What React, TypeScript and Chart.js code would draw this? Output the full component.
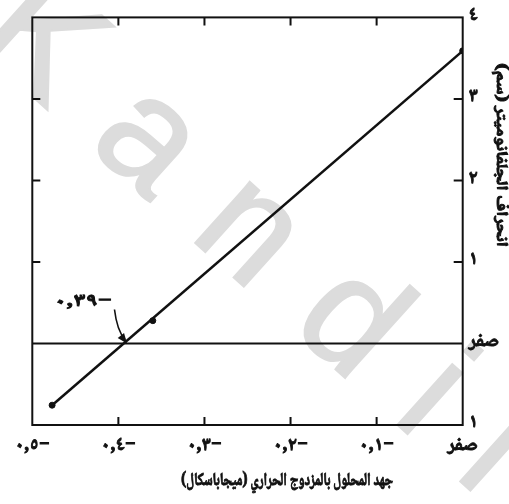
import React, { useEffect, useRef } from "react";
import { Chart, registerables } from "chart.js";

Chart.register(...registerables);

// ---- data ----
const xTickValues = [-0.5, -0.4, -0.3, -0.2, -0.1, 0];
const xTickLabels = ["٠,٥−", "٠,٤−", "٠,٣−", "٠,٢−", "٠,١−", "صفر"];
const yTickValues = [-1, 0, 1, 2, 3, 4];
const yTickLabels = ["١", "صفر", "١", "٢", "٣", "٤"];
const fitX = [-0.477, 0];
const fitY = [-0.757, 3.59];
const pointX = [-0.477, -0.36, 0];
const pointY = [-0.757, 0.28, 3.59];
const zeroX = [-0.5, 0];
const zeroY = [0, 0];
const interceptX = -0.39;
const interceptY = 0;
const interceptLabel = "٠,٣٩−";
const xTitle = "جهد المحلول بالمزدوج الحراري (ميجاباسكال)";
const yTitle = "انحراف الجلفانوميتر (سم)";
const watermark = "Kandil";

const ARABIC_FONT = '"Noto Naskh Arabic", "DejaVu Sans", sans-serif';

function fitText(ctx: CanvasRenderingContext2D, text: string, x: number, y: number, w: number, rot = 0) {
  const m = ctx.measureText(text).width;
  ctx.save();
  ctx.translate(x, y);
  if (rot) ctx.rotate(rot);
  ctx.scale(w / m, 1);
  ctx.lineWidth = 0.9;
  ctx.strokeStyle = "#111";
  ctx.fillText(text, 0, 0);
  ctx.strokeText(text, 0, 0);
  ctx.restore();
}

const decorPlugin = {
  id: "decor",
  beforeDraw(chart: any) {
    const ctx = chart.ctx;
    ctx.save();
    ctx.fillStyle = "#dcdcdc";
    ctx.strokeStyle = "#dcdcdc";
    ctx.lineWidth = 2;
    ctx.font = '155px "Liberation Sans", Arial, sans-serif';
    ctx.textAlign = "left";
    ctx.textBaseline = "alphabetic";
    (ctx as any).letterSpacing = "50px";
    ctx.translate(-28, 42);
    ctx.rotate((42 * Math.PI) / 180);
    ctx.fillText(watermark, 0, 0);
    ctx.strokeText(watermark, 0, 0);
    ctx.restore();
  },
  afterDatasetsDraw(chart: any) {
    const ctx = chart.ctx;
    const ca = chart.chartArea;
    const xs = chart.scales.x;
    const ys = chart.scales.y;
    ctx.save();
    // frame
    ctx.strokeStyle = "#111";
    ctx.lineWidth = 2;
    ctx.strokeRect(ca.left, ca.top, ca.right - ca.left, ca.bottom - ca.top);
    // inward ticks
    ctx.beginPath();
    xTickValues.slice(1, -1).forEach((v) => {
      const px = xs.getPixelForValue(v);
      ctx.moveTo(px, ca.bottom);
      ctx.lineTo(px, ca.bottom - 8);
      ctx.moveTo(px, ca.top);
      ctx.lineTo(px, ca.top + 8);
    });
    [1, 2, 3].forEach((v) => {
      const py = ys.getPixelForValue(v);
      ctx.moveTo(ca.left, py);
      ctx.lineTo(ca.left + 8, py);
      ctx.moveTo(ca.right, py);
      ctx.lineTo(ca.right - 9, py);
    });
    ctx.stroke();

    // annotation arrow
    const tx = xs.getPixelForValue(interceptX);
    const ty = ys.getPixelForValue(interceptY);
    const sx = tx - 12.5, sy = ty - 34;
    const cx = tx - 10, cy = ty - 13;
    ctx.lineWidth = 1.6;
    ctx.beginPath();
    ctx.moveTo(sx, sy);
    ctx.quadraticCurveTo(cx, cy, tx - 2, ty - 4);
    ctx.stroke();
    const dx = tx - cx, dy = ty - cy;
    const len = Math.hypot(dx, dy);
    const ux = dx / len, uy = dy / len;
    ctx.fillStyle = "#111";
    ctx.beginPath();
    ctx.moveTo(tx, ty);
    ctx.lineTo(tx - ux * 10 - uy * 4, ty - uy * 10 + ux * 4);
    ctx.lineTo(tx - ux * 10 + uy * 4, ty - uy * 10 - ux * 4);
    ctx.closePath();
    ctx.fill();
    ctx.textAlign = "center";
    ctx.textBaseline = "middle";
    ctx.font = "bold 18px " + ARABIC_FONT;
    fitText(ctx, interceptLabel, tx - 44, ty - 40, 58);

    // axis titles
    ctx.font = "bold 18px " + ARABIC_FONT;
    fitText(ctx, xTitle, 287, 483, 212);
    ctx.font = "bold 16px " + ARABIC_FONT;
    fitText(ctx, yTitle, 499, 155, 184, Math.PI / 2);
    ctx.restore();
  },
};

export default function App() {
  const ref = useRef<HTMLCanvasElement | null>(null);
  useEffect(() => {
    if (!ref.current) return;
    const chart = new Chart(ref.current, {
      type: "scatter",
      data: {
        datasets: [
          {
            type: "line",
            data: zeroX.map((x, i) => ({ x, y: zeroY[i] })),
            borderColor: "#111",
            borderWidth: 2,
            pointRadius: 0,
          },
          {
            type: "line",
            data: fitX.map((x, i) => ({ x, y: fitY[i] })),
            borderColor: "#111",
            borderWidth: 2.5,
            pointRadius: 0,
          },
          {
            type: "scatter",
            data: pointX.map((x, i) => ({ x, y: pointY[i] })),
            backgroundColor: "#111",
            borderColor: "#111",
            pointRadius: 3,
          },
        ] as any,
      },
      options: {
        animation: false,
        responsive: true,
        maintainAspectRatio: false,
        layout: { padding: { left: 32.3, top: 13, right: 0, bottom: 0 } },
        plugins: { legend: { display: false }, tooltip: { enabled: false } },
        scales: {
          x: {
            type: "linear",
            position: "bottom",
            min: -0.5,
            max: 0,
            afterBuildTicks: (s: any) => {
              s.ticks = xTickValues.map((v) => ({ value: v }));
            },
            afterFit: (s: any) => {
              s.height = 79;
            },
            grid: { display: false, drawTicks: false },
            border: { display: false },
            ticks: {
              padding: 11,
              color: "#111",
              textStrokeColor: "#111",
              textStrokeWidth: 0.9,
              font: { family: ARABIC_FONT, size: 19, weight: "bold" },
              maxRotation: 0,
              autoSkip: false,
              callback: (_v: any, i: number) => xTickLabels[i],
            },
          },
          y: {
            type: "linear",
            position: "right",
            min: -1,
            max: 4,
            afterBuildTicks: (s: any) => {
              s.ticks = yTickValues.map((v) => ({ value: v }));
            },
            afterFit: (s: any) => {
              s.width = 46.3;
            },
            grid: { display: false, drawTicks: false },
            border: { display: false },
            ticks: {
              padding: 6,
              color: "#111",
              textStrokeColor: "#111",
              textStrokeWidth: 0.9,
              font: { family: ARABIC_FONT, size: 19, weight: "bold" },
              autoSkip: false,
              callback: (_v: any, i: number) => yTickLabels[i],
            },
          },
        },
      } as any,
      plugins: [decorPlugin],
    });
    return () => chart.destroy();
  }, []);
  return (
    <div style={{ position: "absolute", left: 0, top: 0, width: 509, height: 504, background: "#fff" }}>
      <canvas ref={ref} />
    </div>
  );
}
